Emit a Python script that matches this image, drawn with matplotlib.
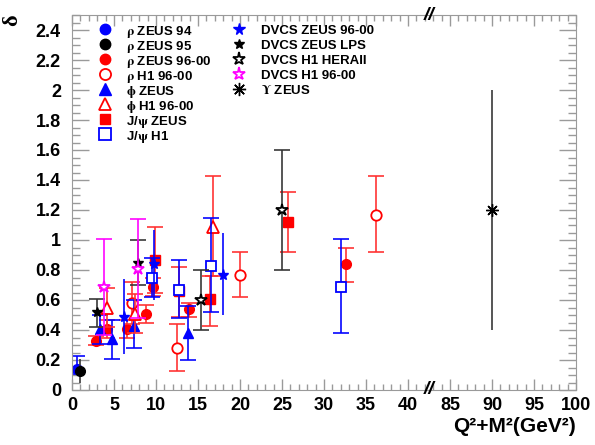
import matplotlib
matplotlib.use("Agg")
import matplotlib.pyplot as plt
import matplotlib.ticker as mticker
import numpy as np

plt.rcParams['font.family'] = ['Liberation Sans', 'DejaVu Sans']
plt.rcParams['font.weight'] = 'bold'
plt.rcParams['mathtext.fontset'] = 'stix'

# x values above the break are shifted left by this much
GAP = 40.0

# --- data: Q^2+M^2, delta, lower / upper end of the capped error bar ---
rho_zeus94_x = [0.6]
rho_zeus94_y = [0.14]
rho_zeus94_lo = [0.11]
rho_zeus94_hi = [0.23]

rho_zeus95_x = [1.0]
rho_zeus95_y = [0.13]
rho_zeus95_lo = [0.05]
rho_zeus95_hi = [0.21]

rho_zeus9600_x = [2.9, 4.2, 6.6, 8.8, 9.6, 13.9, 32.6]
rho_zeus9600_y = [0.33, 0.41, 0.41, 0.51, 0.69, 0.54, 0.84]
rho_zeus9600_lo = [0.30, 0.35, 0.35, 0.45, 0.63, 0.49, 0.72]
rho_zeus9600_hi = [0.36, 0.47, 0.47, 0.57, 0.75, 0.58, 0.95]

rho_h1_x = [7.1, 12.5, 20.0, 36.2]
rho_h1_y = [0.58, 0.28, 0.77, 1.17]
rho_h1_lo = [0.44, 0.13, 0.62, 0.92]
rho_h1_hi = [0.72, 0.44, 0.92, 1.43]

phi_zeus_x = [3.3, 4.8, 7.4, 13.8]
phi_zeus_y = [0.41, 0.34, 0.43, 0.38]
phi_zeus_lo = [0.31, 0.21, 0.28, 0.20]
phi_zeus_hi = [0.50, 0.47, 0.60, 0.56]

phi_h1_x = [4.2, 7.5, 16.8]
phi_h1_y = [0.55, 0.51, 1.09]
phi_h1_lo = [0.42, 0.38, 0.76]
phi_h1_hi = [0.68, 0.64, 1.43]

jpsi_zeus_x = [9.9, 12.7, 16.4, 25.7]
jpsi_zeus_y = [0.87, 0.66, 0.61, 1.12]
jpsi_zeus_lo = [0.65, 0.49, 0.43, 0.92]
jpsi_zeus_hi = [1.09, 0.82, 0.76, 1.32]

jpsi_h1_x = [9.5, 12.7, 16.6, 32.0]
jpsi_h1_y = [0.75, 0.67, 0.83, 0.69]
jpsi_h1_lo = [0.62, 0.48, 0.52, 0.38]
jpsi_h1_hi = [0.88, 0.87, 1.15, 1.01]

dvcs_zeus_x = [6.2, 9.8, 18.0]
dvcs_zeus_y = [0.49, 0.84, 0.77]
dvcs_zeus_lo = [0.24, 0.60, 0.50]
dvcs_zeus_hi = [0.74, 1.07, 1.05]

dvcs_lps_x = [3.0, 7.9]
dvcs_lps_y = [0.52, 0.85]
dvcs_lps_lo = [0.42, 0.70]
dvcs_lps_hi = [0.61, 1.00]

dvcs_hera2_x = [15.4, 25.0]
dvcs_hera2_y = [0.60, 1.20]
dvcs_hera2_lo = [0.40, 0.80]
dvcs_hera2_hi = [0.80, 1.60]

dvcs_h1_x = [3.8, 7.9]
dvcs_h1_y = [0.69, 0.81]
dvcs_h1_lo = [0.37, 0.48]
dvcs_h1_hi = [1.01, 1.14]

ups_zeus_x = [90.0]
ups_zeus_y = [1.20]
ups_zeus_lo = [0.40]
ups_zeus_hi = [2.00]

tick_pos = [0, 5, 10, 15, 20, 25, 30, 35, 40, 45, 50, 55, 60]
tick_labels = ['0', '5', '10', '15', '20', '25', '30', '35', '40', '85', '90', '95', '100']

RED = '#ff0000'
BLUE = '#0000ff'
BLACK = '#000000'
MAG = '#ff00ff'

# label, x, y, lo, hi, marker, color, filled, markersize, capsize, error color
series = [
    (r'$\mathrm{\rho}$ ZEUS 94', rho_zeus94_x, rho_zeus94_y, rho_zeus94_lo, rho_zeus94_hi, 'o', BLUE, True, 7, 6, BLUE),
    (r'$\mathrm{\rho}$ ZEUS 95', rho_zeus95_x, rho_zeus95_y, rho_zeus95_lo, rho_zeus95_hi, 'o', BLACK, True, 7, 0, '#333333'),
    (r'$\mathrm{\rho}$ ZEUS 96-00', rho_zeus9600_x, rho_zeus9600_y, rho_zeus9600_lo, rho_zeus9600_hi, 'o', RED, True, 7, 6, '#ff3030'),
    (r'$\mathrm{\rho}$ H1 96-00', rho_h1_x, rho_h1_y, rho_h1_lo, rho_h1_hi, 'o', RED, False, 7.5, 6, '#ff3030'),
    (r'$\mathrm{\phi}$ ZEUS', phi_zeus_x, phi_zeus_y, phi_zeus_lo, phi_zeus_hi, '^', BLUE, True, 7.5, 6, BLUE),
    (r'$\mathrm{\phi}$ H1 96-00', phi_h1_x, phi_h1_y, phi_h1_lo, phi_h1_hi, '^', RED, False, 8, 6, '#ff3030'),
    (r'J/$\mathrm{\psi}$ ZEUS', jpsi_zeus_x, jpsi_zeus_y, jpsi_zeus_lo, jpsi_zeus_hi, 's', RED, True, 6.5, 6, '#ff3030'),
    (r'J/$\mathrm{\psi}$ H1', jpsi_h1_x, jpsi_h1_y, jpsi_h1_lo, jpsi_h1_hi, 's', BLUE, False, 7.5, 6, BLUE),
    ('DVCS ZEUS 96-00', dvcs_zeus_x, dvcs_zeus_y, dvcs_zeus_lo, dvcs_zeus_hi, '*', BLUE, True, 8, 0, BLUE),
    ('DVCS ZEUS LPS', dvcs_lps_x, dvcs_lps_y, dvcs_lps_lo, dvcs_lps_hi, '*', BLACK, True, 7, 6, '#333333'),
    ('DVCS H1 HERAII', dvcs_hera2_x, dvcs_hera2_y, dvcs_hera2_lo, dvcs_hera2_hi, '*', BLACK, False, 9, 6, '#333333'),
    ('DVCS H1 96-00', dvcs_h1_x, dvcs_h1_y, dvcs_h1_lo, dvcs_h1_hi, '*', MAG, False, 9, 6, MAG),
    (r'$\mathrm{\Upsilon}$ ZEUS', ups_zeus_x, ups_zeus_y, ups_zeus_lo, ups_zeus_hi, (8, 2, 0), BLACK, True, 9, 0, '#333333'),
]


def squeeze(x):
    x = np.asarray(x, dtype=float)
    return np.where(x > 60, x - GAP, x)


fig = plt.figure(figsize=(5.95, 4.45), dpi=100)
ax = fig.add_axes([72 / 595, 55 / 445, 504 / 595, 375 / 445])

for label, x, y, lo, hi, mk, col, filled, ms, cap, ecol in series:
    y = np.asarray(y)
    yerr = [y - np.asarray(lo), np.asarray(hi) - y]
    ax.errorbar(squeeze(x), y, yerr=yerr, fmt='none', ecolor=ecol,
                elinewidth=1.3, capsize=cap, capthick=1.3, alpha=0.9)
    ax.plot(squeeze(x), y, linestyle='none', marker=mk, markersize=ms,
            markerfacecolor=col if filled else 'white', markeredgecolor=col,
            markeredgewidth=1.3 if not filled else 1.0)

ax.set_xlim(0, 60)
ax.set_ylim(0, 2.5)
ax.set_xticks(tick_pos)
ax.set_xticklabels(tick_labels)
ax.xaxis.set_minor_locator(mticker.MultipleLocator(1))
ax.yaxis.set_major_locator(mticker.MultipleLocator(0.2))
ax.yaxis.set_minor_locator(mticker.MultipleLocator(0.05))
ax.yaxis.set_major_formatter(mticker.FuncFormatter(lambda v, p: f'{v:g}'))

GRAY = '#9a9a9a'
for sp in ax.spines.values():
    sp.set_color(GRAY)
ax.tick_params(which='both', direction='in', top=True, right=True, color=GRAY,
               labelsize=13, width=1)
ax.tick_params(axis='x', which='major', length=8, pad=5)
ax.tick_params(axis='x', which='minor', length=4)
ax.tick_params(axis='y', which='major', length=12, pad=8)
ax.tick_params(axis='y', which='minor', length=6)
for lab in ax.get_xticklabels() + ax.get_yticklabels():
    lab.set_fontweight('bold')

# axis break marks
for yy in (0, 1):
    ax.text(42.5, yy, '//', transform=ax.get_xaxis_transform(), ha='center',
            va='center', fontsize=14, fontweight='bold', style='italic',
            clip_on=False)

fig.text(576 / 595, 1 - 427 / 445, 'Q²+M²(GeV²)', ha='right', va='center',
         fontsize=15, fontweight='bold')
fig.text(12 / 595, 1 - 20 / 445, 'δ', rotation=90, ha='center', va='center',
         fontsize=16, family='Liberation Serif')

# legend in two columns (8 + 5 rows), drawn in axes coordinates
row0, drow = 29.3, 15.0
cols = [(105, 126, series[:8]), (239, 261, series[8:])]
for mx, tx, entries in cols:
    for i, (label, x, y, lo, hi, mk, col, filled, ms, cap, ecol) in enumerate(entries):
        yy = (390 - (row0 + drow * i)) / 375
        ax.plot([(mx - 72) / 504], [yy], transform=ax.transAxes, clip_on=False,
                linestyle='none', marker=mk, markersize=ms + 0.5,
                markerfacecolor=col if filled else 'white', markeredgecolor=col,
                markeredgewidth=1.3 if not filled else 1.0)
        ax.text((tx - 72) / 504, yy, label, transform=ax.transAxes, ha='left',
                va='center_baseline', fontsize=9.5, fontweight='bold')

fig.savefig('out.png', dpi=100)
